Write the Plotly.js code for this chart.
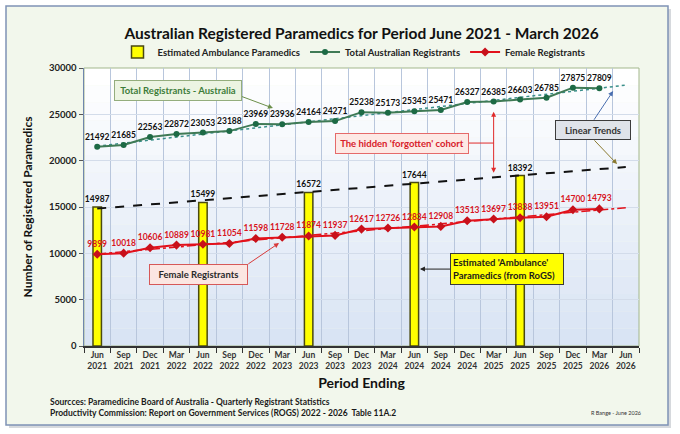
<!DOCTYPE html>
<html>
<head>
<meta charset="utf-8">
<script src="https://cdn.plot.ly/plotly-3.0.1.min.js"></script>
<style>
  html, body { margin: 0; padding: 0; background: #ffffff; }
  #chart { width: 680px; height: 434px; }
</style>
</head>
<body>
<div id="chart"></div>
<script>
const periods = ['Jun<br>2021', 'Sep<br>2021', 'Dec<br>2021', 'Mar<br>2022', 'Jun<br>2022', 'Sep<br>2022',
  'Dec<br>2022', 'Mar<br>2023', 'Jun<br>2023', 'Sep<br>2023', 'Dec<br>2023', 'Mar<br>2024', 'Jun<br>2024',
  'Sep<br>2024', 'Dec<br>2024', 'Mar<br>2025', 'Jun<br>2025', 'Sep<br>2025', 'Dec<br>2025', 'Mar<br>2026',
  'Jun<br>2026'];

const totalRegistrants = [21492, 21685, 22563, 22872, 23053, 23188, 23969, 23936, 24164, 24271,
  25238, 25173, 25345, 25471, 26327, 26385, 26603, 26785, 27875, 27809];

const femaleRegistrants = [9899, 10018, 10606, 10889, 10981, 11054, 11598, 11728, 11874, 11937,
  12617, 12726, 12834, 12908, 13513, 13697, 13838, 13951, 14700, 14793];

const ambulancePeriods = ['Jun<br>2021', 'Jun<br>2022', 'Jun<br>2023', 'Jun<br>2024', 'Jun<br>2025'];
const ambulanceParamedics = [14987, 15499, 16572, 17644, 18392];

// linear trend end points (Jun 2021 -> Jun 2026)
const trendPeriods = ['Jun<br>2021', 'Jun<br>2026'];
const totalTrend = [21560, 28150];
const femaleTrend = [9930, 14930];
const ambulanceTrend = [14830, 19310];

const yTicks = [0, 5000, 10000, 15000, 20000, 25000, 30000];

const FONT = 'Lato, "Open Sans", sans-serif';
const L = 84, R = 639, T = 68, B = 346;
const px = (v) => (v - L) / (R - L);
const py = (v) => (B - v) / (B - T);

const ambulance = {
  x: ambulancePeriods,
  y: ambulanceParamedics,
  type: 'bar',
  width: 0.32,
  name: 'Estimated Ambulance Paramedics',
  marker: { color: '#ffff00', line: { color: '#4a4a10', width: 1.5 } },
  text: ambulanceParamedics.map(String),
  textposition: 'outside',
  constraintext: 'none',
  textfont: { family: FONT, size: 8.5, color: '#111', weight: 700 },
  cliponaxis: false,
};

const total = {
  x: periods.slice(0, totalRegistrants.length),
  y: totalRegistrants,
  mode: 'lines+markers+text',
  name: 'Total Australian Registrants',
  line: { color: '#3f7a55', width: 2 },
  marker: { color: '#1d6a45', size: 6 },
  text: totalRegistrants.map(String),
  textposition: 'top center',
  textfont: { family: FONT, size: 8.5, color: '#111', weight: 700 },
  cliponaxis: false,
};

const female = {
  x: periods.slice(0, femaleRegistrants.length),
  y: femaleRegistrants,
  mode: 'lines+markers+text',
  name: 'Female Registrants',
  line: { color: '#e2111b', width: 2 },
  marker: { color: '#c8101a', size: 7, symbol: 'diamond' },
  text: femaleRegistrants.map(String),
  textposition: 'top center',
  textfont: { family: FONT, size: 8.5, color: '#d8141e', weight: 700 },
  cliponaxis: false,
};

const totalTrendLine = {
  x: trendPeriods, y: totalTrend, mode: 'lines', showlegend: false, hoverinfo: 'skip',
  line: { color: '#3a8f8a', width: 1.5, dash: 'dot' },
};
const femaleTrendLine = {
  x: trendPeriods, y: femaleTrend, mode: 'lines', showlegend: false, hoverinfo: 'skip',
  line: { color: '#e2111b', width: 1.5, dash: 'dashdot' },
};
const ambulanceTrendLine = {
  x: trendPeriods, y: ambulanceTrend, mode: 'lines', showlegend: false, hoverinfo: 'skip',
  line: { color: '#111111', width: 2, dash: 'dash' },
};

const data = [ambulance, totalTrendLine, femaleTrendLine, ambulanceTrendLine, total, female];

// background: outer frame, then banded gradient for the plot area
const shapes = [
  { type: 'rect', xref: 'paper', yref: 'paper', layer: 'below',
    x0: px(9), x1: px(671), y0: py(428), y1: py(9),
    fillcolor: '#d6d9dd', line: { width: 0 } },
  { type: 'rect', xref: 'paper', yref: 'paper', layer: 'below',
    x0: px(6), x1: px(668), y0: py(425), y1: py(6),
    fillcolor: '#f2f7ec', line: { color: '#7f93b5', width: 1.5 } },
];
const bands = 16;
for (let i = 0; i < bands; i++) {
  const t = i / (bands - 1);
  const r = Math.round(217 + (255 - 217) * t);
  const g = Math.round(228 + (255 - 228) * t);
  const b = Math.round(244 + (255 - 244) * t);
  shapes.push({ type: 'rect', xref: 'paper', yref: 'paper', layer: 'below',
    x0: 0, x1: 1, y0: i / bands, y1: (i + 1) / bands,
    fillcolor: `rgb(${r},${g},${b})`, line: { width: 0 } });
}
shapes.push({ type: 'rect', xref: 'paper', yref: 'paper', layer: 'below',
  x0: 0, x1: 1, y0: 0, y1: 1, line: { color: '#a3b78c', width: 1 } });
// connector from the 'forgotten cohort' box to the double arrow
shapes.push({ type: 'line', xref: 'x', yref: 'y', x0: 13.84, x1: 15, y0: 21900, y1: 21900,
  line: { color: '#e02a2a', width: 1 } });

const boxFont = (color) => ({ family: FONT, size: 9.5, color: color, weight: 700 });
const arrow = (x, y, ax, ay, color, head) => ({
  xref: 'x', yref: 'y', axref: 'x', ayref: 'y', x: x, y: y, ax: ax, ay: ay, text: '',
  showarrow: true, arrowhead: head || 2, arrowsize: 1, arrowwidth: 1, arrowcolor: color,
});

const annotations = [
  arrow(6.65, 25670, 5.4, 27000, '#6b8f4a'),
  { xref: 'x', yref: 'y', x: 3.04, y: 27560, text: 'Total Registrants - Australia', showarrow: false,
    font: boxFont('#3e7d3a'), bgcolor: '#ecf4e2', bordercolor: '#94ad7d', borderwidth: 1,
    width: 122, height: 15, borderpad: 2 },
  Object.assign(arrow(15, 18700, 15, 25450, '#e02a2a', 2), { arrowside: 'end+start' }),
  { xref: 'x', yref: 'y', x: 11.53, y: 21900, text: "The hidden 'forgotten' cohort", showarrow: false,
    font: boxFont('#d8202a'), bgcolor: '#fde9e5', bordercolor: '#e56a6a', borderwidth: 1,
    width: 128, height: 15, borderpad: 2 },
  arrow(19.52, 27510, 18.76, 24250, '#4a6fb0'),
  arrow(19.67, 19630, 18.76, 22350, '#8a7a30'),
  { xref: 'x', yref: 'y', x: 18.76, y: 23300, text: 'Linear Trends', showarrow: false,
    font: boxFont('#333333'), bgcolor: '#dfe3e9', bordercolor: '#3c3c3c', borderwidth: 1,
    width: 70, height: 14, borderpad: 2 },
  arrow(6.88, 11110, 5.66, 8750, '#d83a3a'),
  { xref: 'x', yref: 'y', x: 3.83, y: 7710, text: 'Female Registrants', showarrow: false,
    font: boxFont('#2a2a2a'), bgcolor: '#fbe6e2', bordercolor: '#d65858', borderwidth: 1,
    width: 93, height: 15, borderpad: 2 },
  arrow(12.21, 8300, 13.5, 8300, '#222222'),
  { xref: 'x', yref: 'y', x: 15.52, y: 8300, text: "Estimated 'Ambulance'<br>Paramedics (from RoGS)",
    showarrow: false, align: 'left',
    font: boxFont('#1a1a1a'), bgcolor: '#ffff00', bordercolor: '#3a3a3a', borderwidth: 1,
    width: 108, height: 26, borderpad: 2 },
  { xref: 'paper', yref: 'paper', x: px(48), y: py(402), xanchor: 'left', yanchor: 'middle',
    text: 'Sourcces: Paramedicine Board of Australia - Quarterly Registrant Statistics', showarrow: false,
    font: { family: FONT, size: 8.5, color: '#1a1a1a', weight: 700 } },
  { xref: 'paper', yref: 'paper', x: px(48), y: py(413), xanchor: 'left', yanchor: 'middle',
    text: 'Productivity Commission: Report on Government Services (ROGS) 2022 - 2026  Table 11A.2', showarrow: false,
    font: { family: FONT, size: 8.5, color: '#1a1a1a', weight: 700 } },
  { xref: 'paper', yref: 'paper', x: px(643), y: py(413), xanchor: 'right', yanchor: 'middle',
    text: 'R Bange - June 2026', showarrow: false,
    font: { family: FONT, size: 5.5, color: '#333333' } },
];

const layout = {
  width: 680,
  height: 434,
  margin: { l: L, r: 680 - R, t: T, b: 434 - B, pad: 0 },
  paper_bgcolor: '#ffffff',
  plot_bgcolor: 'rgba(0,0,0,0)',
  font: { family: FONT, color: '#222' },
  showlegend: true,
  bargap: 0,
  title: {
    text: 'Australian Registered Paramedics for Period June 2021 - March 2026',
    font: { family: FONT, size: 15.5, color: '#111', weight: 700 },
    x: 0.5, xref: 'paper', y: 1 - 34 / 434, yanchor: 'middle',
  },
  legend: {
    orientation: 'h', x: px(354), xanchor: 'center', y: py(52), yanchor: 'middle',
    bgcolor: 'rgba(0,0,0,0)', font: { family: FONT, size: 9.5, color: '#222', weight: 700 },
    traceorder: 'normal', itemwidth: 30, tracegroupgap: 0,
  },
  xaxis: {
    type: 'category',
    categoryorder: 'array',
    categoryarray: periods,
    range: [-0.5, periods.length - 0.5],
    tickson: 'boundaries',
    tickangle: 0,
    ticks: 'outside', ticklen: 5, tickcolor: '#333',
    showgrid: true, gridcolor: '#b8c6dc', gridwidth: 1,
    showline: true, linecolor: '#333', linewidth: 1.5,
    tickfont: { family: FONT, size: 8.5, color: '#333', weight: 700 },
    title: { text: 'Period Ending', font: { family: FONT, size: 14, color: '#111', weight: 700 }, standoff: 8 },
    fixedrange: true,
  },
  yaxis: {
    range: [0, 30000],
    tickvals: yTicks,
    tickformat: 'd',
    ticks: 'outside', ticklen: 4, tickcolor: '#555',
    showgrid: true, gridcolor: '#d3dcea', gridwidth: 1,
    zeroline: false,
    showline: true, linecolor: '#6f86ad', linewidth: 1.5,
    tickfont: { family: FONT, size: 9.5, color: '#222', weight: 700 },
    title: { text: 'Number of Registered Paramedics', font: { family: FONT, size: 12, color: '#111', weight: 700 }, standoff: 14 },
    fixedrange: true,
  },
  shapes: shapes,
  annotations: annotations,
};

Plotly.newPlot('chart', data, layout, { displayModeBar: false, staticPlot: true });
</script>
</body>
</html>
